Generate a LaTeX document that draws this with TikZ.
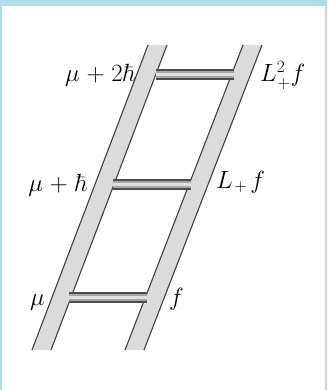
\documentclass[tikz,border=0pt]{standalone}
\begin{document}
\begin{tikzpicture}[x=1pt,y=-1pt,
  railfill/.style={fill=black!14},
  railedge/.style={draw=black!75,line width=1.1pt},
  rungout/.style={line width=11pt,draw=black!70},
  rungmid/.style={line width=7pt,draw=black!35},
  rungin/.style={line width=3pt,draw=black!12},
  lbl/.style={inner sep=0pt,font=\fontsize{25}{29}\selectfont}]
\useasboundingbox (0,0) rectangle (327,390);
\fill[fill={rgb,255:red,176;green,220;blue,230}] (0,0) rectangle (327,390);
\fill[white] (2,6) rectangle (325,390);
% rail coordinates
\coordinate (LLt) at (148,45);  \coordinate (LLb) at (32,350);
\coordinate (LRt) at (167,45);  \coordinate (LRb) at (51,350);
\coordinate (RLt) at (243,45);  \coordinate (RLb) at (125,350);
\coordinate (RRt) at (262,45);  \coordinate (RRb) at (144,350);
% rails
\fill[railfill] (LLt) -- (LRt) -- (LRb) -- (LLb) -- cycle;
\fill[railfill] (RLt) -- (RRt) -- (RRb) -- (RLb) -- cycle;
\draw[railedge] (LLt) -- (LLb);
\draw[railedge] (LRt) -- (LRb);
\draw[railedge] (RLt) -- (RLb);
\draw[railedge] (RRt) -- (RRb);
% rungs
\coordinate (r1a) at (156,75);  \coordinate (r1b) at (234,75);
\coordinate (r2a) at (113,184); \coordinate (r2b) at (191,184);
\coordinate (r3a) at (69,297);  \coordinate (r3b) at (147,297);
\foreach \a/\b in {r1a/r1b,r2a/r2b,r3a/r3b}{
  \draw[rungout] (\a) -- (\b);
  \draw[rungmid] (\a) -- (\b);
  \draw[rungin] (\a) -- (\b);
}
% labels
\node[lbl,anchor=base east] (m2) at (136,82) {$\mu\mkern1mu+\mkern1mu2\hbar$};
\node[lbl,anchor=base west] (l2) at (260,82) {$L_{\mkern1mu+}^{2}f$};
\node[lbl,anchor=base east] (m1) at (88,191) {$\mu\mkern1mu+\mkern1mu\hbar$};
\node[lbl,anchor=base west] (l1) at (216,188) {$L_{\mkern2mu+}\mkern2mu f$};
\node[lbl,anchor=base east] (m0) at (45,305) {$\mu$};
\node[lbl,anchor=base west] (l0) at (169,305) {$f$};
\end{tikzpicture}
\end{document}
